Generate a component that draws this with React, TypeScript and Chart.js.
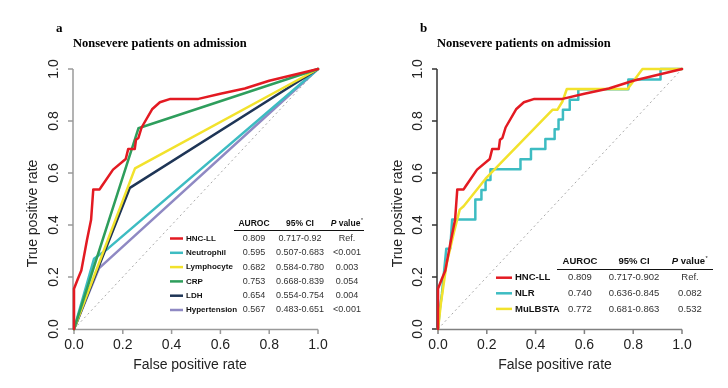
import React, { useEffect, useRef } from "react";
import { Chart, registerables } from "chart.js";

Chart.register(...registerables);

// ---------- data ----------
const AXIS_TICKS = [0, 0.2, 0.4, 0.6, 0.8, 1.0];
const AXIS_TICK_LABELS = ["0.0", "0.2", "0.4", "0.6", "0.8", "1.0"];

// HNC-LL (same model in both panels)
const HNC_FPR = [0, 0, 0.016, 0.03, 0.053, 0.07, 0.079, 0.105, 0.112, 0.16, 0.212, 0.222, 0.249, 0.254, 0.264, 0.277, 0.32, 0.352, 0.395, 0.51, 0.6, 0.7, 0.8, 1];
const HNC_TPR = [0, 0.155, 0.193, 0.225, 0.341, 0.42, 0.537, 0.537, 0.547, 0.613, 0.654, 0.692, 0.692, 0.728, 0.735, 0.775, 0.845, 0.872, 0.885, 0.885, 0.905, 0.925, 0.955, 1];

// Panel a
const NEUT_FPR = [0, 0.082, 0.14, 1];
const NEUT_TPR = [0, 0.27, 0.31, 1];
const LYMPH_FPR = [0, 0.25, 1];
const LYMPH_TPR = [0, 0.618, 1];
const CRP_FPR = [0, 0.264, 1];
const CRP_TPR = [0, 0.772, 1];
const LDH_FPR = [0, 0.229, 1];
const LDH_TPR = [0, 0.543, 1];
const HYP_FPR = [0, 0.102, 1];
const HYP_TPR = [0, 0.233, 1];

// Panel b
const NLR_FPR = [0, 0.008, 0.016, 0.034, 0.05, 0.058, 0.153, 0.153, 0.178, 0.178, 0.195, 0.195, 0.215, 0.215, 0.338, 0.338, 0.381, 0.381, 0.44, 0.44, 0.478, 0.478, 0.494, 0.494, 0.512, 0.512, 0.54, 0.54, 0.575, 0.575, 0.78, 0.78, 0.912, 0.912, 1];
const NLR_TPR = [0, 0.08, 0.135, 0.309, 0.309, 0.421, 0.421, 0.498, 0.498, 0.535, 0.535, 0.573, 0.573, 0.614, 0.614, 0.653, 0.653, 0.692, 0.692, 0.731, 0.731, 0.768, 0.768, 0.806, 0.806, 0.843, 0.843, 0.882, 0.882, 0.922, 0.922, 0.96, 0.96, 1, 1];
const MUL_FPR = [0, 0.012, 0.035, 0.065, 0.089, 0.105, 0.195, 0.469, 0.489, 0.51, 0.528, 0.777, 0.838, 1];
const MUL_TPR = [0, 0.1, 0.25, 0.37, 0.459, 0.472, 0.578, 0.843, 0.843, 0.875, 0.923, 0.923, 1, 1];

// Legend tables
const A_NAMES = ["HNC-LL", "Neutrophil", "Lymphocyte", "CRP", "LDH", "Hypertension"];
const A_AUROC = ["0.809", "0.595", "0.682", "0.753", "0.654", "0.567"];
const A_CI = ["0.717-0.92", "0.507-0.683", "0.584-0.780", "0.668-0.839", "0.554-0.754", "0.483-0.651"];
const A_P = ["Ref.", "<0.001", "0.003", "0.054", "0.004", "<0.001"];

const B_NAMES = ["HNC-LL", "NLR", "MuLBSTA"];
const B_AUROC = ["0.809", "0.740", "0.772"];
const B_CI = ["0.717-0.902", "0.636-0.845", "0.681-0.863"];
const B_P = ["Ref.", "0.082", "0.532"];

const TITLE = "Nonsevere patients on admission";
const X_TITLE = "False positive rate";
const Y_TITLE = "True positive rate";

// ---------- styles ----------
const RED = "#e31a22";
const CYAN = "#3dbcc2";
const YELLOW = "#f2e22c";
const GREEN = "#2e9e5c";
const NAVY = "#1e3556";
const LAVENDER = "#8f89c3";

const SANS = '"Liberation Sans", Arial, sans-serif';
const SERIF = '"Liberation Serif", "Times New Roman", serif';

type Curve = { fpr: number[]; tpr: number[]; color: string };

type Panel = {
  letter: string;
  curves: Curve[]; // first drawn on top
  names: string[];
  auroc: string[];
  ci: string[];
  p: string[];
  colors: string[];
  yAxisColor: string;
  xAxisColor: string;
  legend: {
    headerY: number;
    lineY: number;
    lineX0: number;
    lineX1: number;
    rowY0: number;
    rowStep: number;
    keyX0: number;
    keyX1: number;
    labelX: number;
    colAuroc: number;
    colCi: number;
    colP: number;
    labelFont: number;
    valueFont: number;
    headerFont: number;
  };
  xTitleX: number;
  yTitleX: number;
};

const PANEL_A: Panel = {
  letter: "a",
  curves: [
    { fpr: HNC_FPR, tpr: HNC_TPR, color: RED },
    { fpr: CRP_FPR, tpr: CRP_TPR, color: GREEN },
    { fpr: LYMPH_FPR, tpr: LYMPH_TPR, color: YELLOW },
    { fpr: LDH_FPR, tpr: LDH_TPR, color: NAVY },
    { fpr: NEUT_FPR, tpr: NEUT_TPR, color: CYAN },
    { fpr: HYP_FPR, tpr: HYP_TPR, color: LAVENDER },
  ],
  names: A_NAMES,
  auroc: A_AUROC,
  ci: A_CI,
  p: A_P,
  colors: [RED, CYAN, YELLOW, GREEN, NAVY, LAVENDER],
  yAxisColor: "#9a9a9a",
  xAxisColor: "#9a9a9a",
  legend: {
    headerY: 224,
    lineY: 230,
    lineX0: 234,
    lineX1: 364,
    rowY0: 238.5,
    rowStep: 14.3,
    keyX0: 170,
    keyX1: 183,
    labelX: 186,
    colAuroc: 254,
    colCi: 300,
    colP: 347,
    labelFont: 8,
    valueFont: 9,
    headerFont: 8.5,
  },
  xTitleX: 190,
  yTitleX: 33,
};

const PANEL_B: Panel = {
  letter: "b",
  curves: [
    { fpr: HNC_FPR, tpr: HNC_TPR, color: RED },
    { fpr: MUL_FPR, tpr: MUL_TPR, color: YELLOW },
    { fpr: NLR_FPR, tpr: NLR_TPR, color: CYAN },
  ],
  names: B_NAMES,
  auroc: B_AUROC,
  ci: B_CI,
  p: B_P,
  colors: [RED, CYAN, YELLOW],
  yAxisColor: "#333333",
  xAxisColor: "#808080",
  legend: {
    headerY: 261.7,
    lineY: 269,
    lineX0: 193,
    lineX1: 349,
    rowY0: 277.7,
    rowStep: 15.6,
    keyX0: 132,
    keyX1: 148,
    labelX: 151,
    colAuroc: 216,
    colCi: 270,
    colP: 326,
    labelFont: 9.5,
    valueFont: 9.5,
    headerFont: 9.5,
  },
  xTitleX: 191,
  yTitleX: 34,
};

function decorPlugin(panel: Panel) {
  return {
    id: "rstyle-" + panel.letter,
    beforeDatasetsDraw(chart: any) {
      const ctx: CanvasRenderingContext2D = chart.ctx;
      const xs = chart.scales.x;
      const ys = chart.scales.y;
      const x0 = xs.getPixelForValue(0);
      const x1 = xs.getPixelForValue(1);
      const y0 = ys.getPixelForValue(0);
      const y1 = ys.getPixelForValue(1);
      ctx.save();
      // y axis
      ctx.strokeStyle = panel.yAxisColor;
      ctx.lineWidth = 1.5;
      ctx.beginPath();
      ctx.moveTo(x0 - 1, y0);
      ctx.lineTo(x0 - 1, y1);
      AXIS_TICKS.forEach((t) => {
        const py = ys.getPixelForValue(t);
        ctx.moveTo(x0 - 1, py);
        ctx.lineTo(x0 - 6, py);
      });
      ctx.stroke();
      // x axis
      ctx.strokeStyle = panel.xAxisColor;
      ctx.beginPath();
      ctx.moveTo(x0, y0 + 0.5);
      ctx.lineTo(x1, y0 + 0.5);
      AXIS_TICKS.forEach((t) => {
        const px = xs.getPixelForValue(t);
        ctx.moveTo(px, y0 + 0.5);
        ctx.lineTo(px, y0 + 5);
      });
      ctx.stroke();

      // tick labels
      ctx.fillStyle = "#222";
      ctx.font = `14px ${SANS}`;
      ctx.textAlign = "center";
      ctx.textBaseline = "middle";
      AXIS_TICKS.forEach((t, i) => {
        const px = xs.getPixelForValue(t);
        ctx.fillText(AXIS_TICK_LABELS[i], px, y0 + 16);
      });
      AXIS_TICKS.forEach((t, i) => {
        const py = ys.getPixelForValue(t);
        ctx.save();
        ctx.translate(x0 - 20, py);
        ctx.rotate(-Math.PI / 2);
        ctx.fillText(AXIS_TICK_LABELS[i], 0, 0);
        ctx.restore();
      });
      // axis titles
      ctx.fillText(X_TITLE, panel.xTitleX, 365);
      ctx.save();
      ctx.translate(panel.yTitleX, 213.5);
      ctx.rotate(-Math.PI / 2);
      ctx.fillText(Y_TITLE, 0, 0);
      ctx.restore();

      // panel letter and title
      ctx.fillStyle = "#000";
      ctx.textAlign = "left";
      ctx.font = `bold 13px ${SERIF}`;
      ctx.fillText(panel.letter, x0 - 18, 29);
      ctx.font = `bold 12.5px ${SERIF}`;
      ctx.fillText(TITLE, x0 - 1, 43.5);
      ctx.restore();
    },
    afterDraw(chart: any) {
      const ctx: CanvasRenderingContext2D = chart.ctx;
      const L = panel.legend;
      ctx.save();
      ctx.textBaseline = "middle";
      ctx.fillStyle = "#111";
      // header
      ctx.font = `bold ${L.headerFont}px ${SANS}`;
      ctx.textAlign = "center";
      ctx.fillText("AUROC", L.colAuroc, L.headerY);
      ctx.fillText("95% CI", L.colCi, L.headerY);
      // P value*
      const pPart = "P";
      const vPart = " value";
      ctx.font = `italic bold ${L.headerFont}px ${SANS}`;
      const wP = ctx.measureText(pPart).width;
      ctx.font = `bold ${L.headerFont}px ${SANS}`;
      const wV = ctx.measureText(vPart).width;
      const wS = L.headerFont * 0.35;
      let sx = L.colP - (wP + wV + wS) / 2;
      ctx.textAlign = "left";
      ctx.font = `italic bold ${L.headerFont}px ${SANS}`;
      ctx.fillText(pPart, sx, L.headerY);
      sx += wP;
      ctx.font = `bold ${L.headerFont}px ${SANS}`;
      ctx.fillText(vPart, sx, L.headerY);
      sx += wV;
      ctx.font = `${L.headerFont * 0.6}px ${SANS}`;
      ctx.fillText("*", sx + 0.5, L.headerY - 3);
      // rule
      ctx.strokeStyle = "#111";
      ctx.lineWidth = 1;
      ctx.beginPath();
      ctx.moveTo(L.lineX0, L.lineY + 0.5);
      ctx.lineTo(L.lineX1, L.lineY + 0.5);
      ctx.stroke();
      // rows
      panel.names.forEach((name, i) => {
        const y = L.rowY0 + i * L.rowStep;
        ctx.strokeStyle = panel.colors[i];
        ctx.lineWidth = 2.5;
        ctx.beginPath();
        ctx.moveTo(L.keyX0, y);
        ctx.lineTo(L.keyX1, y);
        ctx.stroke();
        ctx.fillStyle = "#111";
        ctx.textAlign = "left";
        ctx.font = `bold ${L.labelFont}px ${SANS}`;
        ctx.fillText(name, L.labelX, y);
        ctx.textAlign = "center";
        ctx.fillStyle = "#333";
        ctx.font = `${L.valueFont}px ${SANS}`;
        ctx.fillText(panel.auroc[i], L.colAuroc, y);
        ctx.fillText(panel.ci[i], L.colCi, y);
        ctx.fillText(panel.p[i], L.colP, y);
      });
      ctx.restore();
    },
  };
}

function PanelChart({ panel, left }: { panel: Panel; left: number }) {
  const ref = useRef<HTMLCanvasElement | null>(null);
  useEffect(() => {
    if (!ref.current) return;
    const datasets: any[] = panel.curves.map((c) => ({
      data: c.fpr.map((x, i) => ({ x, y: c.tpr[i] })),
      showLine: true,
      borderColor: c.color,
      backgroundColor: c.color,
      borderWidth: 2.5,
      borderJoinStyle: "round",
      borderCapStyle: "round",
      pointRadius: 0,
      fill: false,
      tension: 0,
      clip: false,
    }));
    datasets.push({
      data: [
        { x: 0, y: 0 },
        { x: 1, y: 1 },
      ],
      showLine: true,
      borderColor: "#a8a8a8",
      borderWidth: 1,
      borderDash: [2, 3],
      pointRadius: 0,
      fill: false,
      clip: false,
    });
    const chart = new Chart(ref.current, {
      type: "scatter",
      data: { datasets },
      options: {
        animation: false,
        responsive: false,
        maintainAspectRatio: false,
        devicePixelRatio: 1,
        events: [],
        layout: { padding: { left: 74, right: 46, top: 69, bottom: 59 } },
        scales: {
          x: { type: "linear", min: 0, max: 1, display: false },
          y: { type: "linear", min: 0, max: 1, display: false },
        },
        plugins: { legend: { display: false }, tooltip: { enabled: false } },
      } as any,
      plugins: [decorPlugin(panel) as any],
    });
    return () => chart.destroy();
  }, [panel]);
  return (
    <canvas
      ref={ref}
      width={364}
      height={388}
      style={{ position: "absolute", left, top: 0, width: 364, height: 388 }}
    />
  );
}

export default function App() {
  return (
    <div style={{ position: "fixed", left: 0, top: 0, width: 728, height: 388, background: "#fff" }}>
      <PanelChart panel={PANEL_A} left={0} />
      <PanelChart panel={PANEL_B} left={364} />
    </div>
  );
}
